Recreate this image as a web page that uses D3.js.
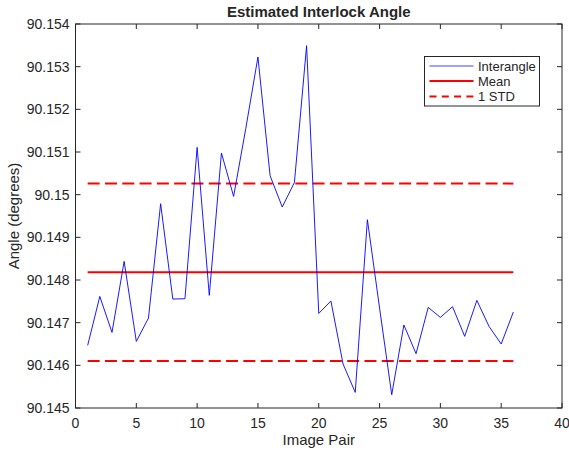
<!DOCTYPE html>
<html>
<head>
<meta charset="utf-8">
<script src="https://cdn.jsdelivr.net/npm/d3@7"></script>
<style>
  body { margin: 0; background: #fff; }
  text { font-family: "Liberation Sans", Arial, sans-serif; fill: #262626; }
</style>
</head>
<body>
<svg id="chart" width="569" height="453"></svg>
<script>
// image pair index and measured interlock angle
var pairs = [1, 2, 3, 4, 5, 6, 7, 8, 9, 10, 11, 12, 13, 14, 15, 16, 17, 18,
             19, 20, 21, 22, 23, 24, 25, 26, 27, 28, 29, 30, 31, 32, 33, 34, 35, 36];
var angles = [90.146467, 90.147615, 90.146772, 90.148436, 90.146561, 90.147109,
              90.149788, 90.147554, 90.147560, 90.151107, 90.147639, 90.150976,
              90.149959, 90.151550, 90.153226, 90.150444, 90.149711, 90.150287,
              90.153491, 90.147217, 90.147508, 90.146031, 90.145366, 90.149413,
              90.147343, 90.145312, 90.146945, 90.146273, 90.147358, 90.147123,
              90.147374, 90.146679, 90.147522, 90.146913, 90.146500, 90.147250];
var meanAngle = 90.14818;
var stdAngle = 0.00208;

var xTicks = [0, 5, 10, 15, 20, 25, 30, 35, 40];
var yTicks = [90.145, 90.146, 90.147, 90.148, 90.149, 90.15, 90.151, 90.152, 90.153, 90.154];
var legendItems = ["Interangle", "Mean", "1 STD"];

var svg = d3.select("#chart");
var plotLeft = 75.5, plotTop = 24, plotW = 486.5, plotH = 384;
var axisColor = "#262626";

var x = d3.scaleLinear().domain([0, 40]).range([plotLeft, plotLeft + plotW]);
var y = d3.scaleLinear().domain([90.145, 90.154]).range([plotTop + plotH, plotTop]);

// axes box with inward ticks (matlab style)
var g = svg.append("g");
g.append("rect")
  .attr("x", plotLeft).attr("y", plotTop)
  .attr("width", plotW).attr("height", plotH)
  .attr("fill", "none")
  .attr("stroke", axisColor)
  .attr("stroke-width", 1);

g.selectAll(".xtick")
  .data(xTicks)
  .enter()
  .append("path")
  .attr("d", d => "M" + x(d) + "," + (plotTop + plotH) + "v-5M" + x(d) + "," + plotTop + "v5")
  .attr("stroke", axisColor);

g.selectAll(".ytick")
  .data(yTicks)
  .enter()
  .append("path")
  .attr("d", d => "M" + plotLeft + "," + y(d) + "h5M" + (plotLeft + plotW) + "," + y(d) + "h-5")
  .attr("stroke", axisColor);

g.selectAll(".xlabel")
  .data(xTicks)
  .enter()
  .append("text")
  .attr("x", d => x(d))
  .attr("y", plotTop + plotH + 20)
  .attr("text-anchor", "middle")
  .attr("font-size", 14)
  .text(d => d);

g.selectAll(".ylabel")
  .data(yTicks)
  .enter()
  .append("text")
  .attr("x", plotLeft - 6)
  .attr("y", d => y(d) + 5)
  .attr("text-anchor", "end")
  .attr("font-size", 14)
  .text(d => String(+d.toFixed(3)));

svg.append("text")
  .attr("x", plotLeft + plotW / 2)
  .attr("y", 17)
  .attr("text-anchor", "middle")
  .attr("font-size", 15)
  .attr("font-weight", "bold")
  .text("Estimated Interlock Angle");

svg.append("text")
  .attr("x", plotLeft + plotW / 2)
  .attr("y", 445)
  .attr("text-anchor", "middle")
  .attr("font-size", 15)
  .text("Image Pair");

svg.append("text")
  .attr("transform", "translate(19," + (plotTop + plotH / 2) + ") rotate(-90)")
  .attr("text-anchor", "middle")
  .attr("font-size", 15)
  .text("Angle (degrees)");

// mean and +/- 1 std lines
var xFirst = pairs[0], xLast = pairs[pairs.length - 1];

svg.append("line")
  .attr("x1", x(xFirst)).attr("x2", x(xLast))
  .attr("y1", y(meanAngle)).attr("y2", y(meanAngle))
  .attr("stroke", "#ff0000")
  .attr("stroke-width", 2);

svg.selectAll(".std")
  .data([meanAngle + stdAngle, meanAngle - stdAngle])
  .enter()
  .append("line")
  .attr("x1", x(xFirst)).attr("x2", x(xLast))
  .attr("y1", d => y(d)).attr("y2", d => y(d))
  .attr("stroke", "#ff0000")
  .attr("stroke-width", 2)
  .attr("stroke-dasharray", "12,5.3");

// measured angles
var line = d3.line()
  .x((d, i) => x(pairs[i]))
  .y(d => y(d));

svg.append("path")
  .datum(angles)
  .attr("d", line)
  .attr("fill", "none")
  .attr("stroke", "#0000ff")
  .attr("stroke-width", 0.9);

// legend
var lg = svg.append("g");
lg.append("rect")
  .attr("x", 424.5).attr("y", 56.5)
  .attr("width", 115).attr("height", 49.5)
  .attr("fill", "#fff")
  .attr("stroke", axisColor)
  .attr("stroke-width", 1);

var rowY = [66, 81, 96.5];
var legendStyle = [
  {color: "#8080ff", w: 1.5, dash: null},
  {color: "#ff0000", w: 2, dash: null},
  {color: "#ff0000", w: 2, dash: "7,5.3"}
];

lg.selectAll(".lline")
  .data(legendItems)
  .enter()
  .append("line")
  .attr("x1", 429.5).attr("x2", 473.5)
  .attr("y1", (d, i) => rowY[i]).attr("y2", (d, i) => rowY[i])
  .attr("stroke", (d, i) => legendStyle[i].color)
  .attr("stroke-width", (d, i) => legendStyle[i].w)
  .attr("stroke-dasharray", (d, i) => legendStyle[i].dash);

lg.selectAll(".ltext")
  .data(legendItems)
  .enter()
  .append("text")
  .attr("x", 478)
  .attr("y", (d, i) => rowY[i] + 4.5)
  .attr("font-size", 13)
  .text(d => d);
</script>
</body>
</html>
